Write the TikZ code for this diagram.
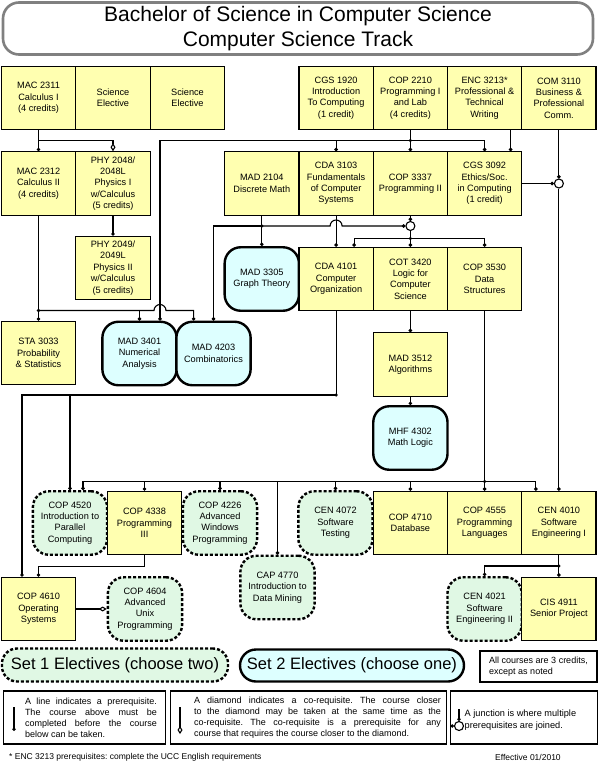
\documentclass[tikz,border=0pt]{standalone}
\usepackage{fontspec}
\setmainfont{Liberation Sans}
\usepackage{tikz}
\usetikzlibrary{arrows.meta}
\definecolor{courseyellow}{RGB}{255,255,176}
\definecolor{setonegreen}{RGB}{224,248,228}
\definecolor{settwocyan}{RGB}{221,255,255}
\frenchspacing

\begin{document}
\begin{tikzpicture}[x=1pt, y=-1pt,
    course/.style={draw, line width=1.1pt, fill=courseyellow, minimum width=74.25pt, minimum height=63.5pt, inner sep=0pt, align=center, font=\fontsize{9.2}{11.4}\selectfont},
    setone/.style={course, fill=setonegreen, rounded corners=16pt, line width=2.4pt, dash pattern=on 3pt off 2pt},
    settwo/.style={course, fill=settwocyan, rounded corners=16pt, line width=2.4pt},
    pre/.style={line width=1.1pt, -{Circle[length=3.4pt]}},
    coreq/.style={line width=1.1pt, -{Diamond[open, fill=white, length=8pt, width=5pt]}},
    junc/.style={circle, draw, fill=white, line width=1.1pt, minimum size=9pt, inner sep=0pt},
    legbox/.style={draw, line width=1.1pt, inner sep=0pt},
    legtext/.style={align=justify, inner sep=0pt, font=\fontsize{9}{11}\selectfont}]
    \path[use as bounding box, fill=white] (0,0) rectangle (598,769);

    % Title
    \node[draw=gray, line width=2.6pt, rounded corners=16pt, minimum width=590pt, minimum height=52pt, inner sep=0pt, align=center, font=\fontsize{21}{25}\selectfont] (title) at (298,28.5) {Bachelor of Science in Computer Science\\Computer Science Track};

    % Courses
    \node[course] (mac2311) at (38.5,98) {MAC 2311\\Calculus I\\(4 credits)};
    \node[course] (sci1) at (113,98) {Science\\Elective};
    \node[course] (sci2) at (187.5,98) {Science\\Elective};
    \node[course] (cgs1920) at (336.1,98) {CGS 1920\\Introduction\\To Computing\\(1 credit)};
    \node[course] (cop2210) at (410.4,98) {COP 2210\\Programming I\\and Lab\\(4 credits)};
    \node[course] (enc3213) at (484.6,98) {ENC 3213*\\Professional \&\\Technical\\Writing};
    \node[course] (com3110) at (558.9,98) {COM 3110\\Business \&\\Professional\\Comm.};
    \node[course] (mac2312) at (38.5,183.5) {MAC 2312\\Calculus II\\(4 credits)};
    \node[course] (phy2048) at (113,183.5) {PHY 2048/\\2048L\\Physics I\\w/Calculus\\(5 credits)};
    \node[course] (mad2104) at (261.8,183.5) {MAD 2104\\Discrete Math};
    \node[course] (cda3103) at (336.1,183.5) {CDA 3103\\Fundamentals\\of Computer\\Systems};
    \node[course] (cop3337) at (410.4,183.5) {COP 3337\\Programming II};
    \node[course] (cgs3092) at (484.6,183.5) {CGS 3092\\Ethics/Soc.\\in Computing\\(1 credit)};
    \node[course] (phy2049) at (113,268) {PHY 2049/\\2049L\\Physics II\\w/Calculus\\(5 credits)};
    \node[settwo] (mad3305) at (261.8,279) {MAD 3305\\Graph Theory};
    \node[course] (cda4101) at (336.1,279) {CDA 4101\\Computer\\Organization};
    \node[course] (cot3420) at (410.4,279) {COT 3420\\Logic for\\Computer\\Science};
    \node[course] (cop3530) at (484.6,279) {COP 3530\\Data\\Structures};
    \node[course] (sta3033) at (38.5,353) {STA 3033\\Probability\\\& Statistics};
    \node[settwo] (mad3401) at (139.5,353.5) {MAD 3401\\Numerical\\Analysis};
    \node[settwo] (mad4203) at (213.5,353.5) {MAD 4203\\Combinatorics};
    \node[course] (mad3512) at (410.4,364.5) {MAD 3512\\Algorithms};
    \node[settwo] (mhf4302) at (410.4,438) {MHF 4302\\Math Logic};
    \node[setone] (cop4520) at (70,523) {COP 4520\\Introduction to\\Parallel\\Computing};
    \node[course] (cop4338) at (144.5,523) {COP 4338\\Programming\\III};
    \node[setone] (cop4226) at (220,523) {COP 4226\\Advanced\\Windows\\Programming};
    \node[setone] (cen4072) at (335.5,523) {CEN 4072\\Software\\Testing};
    \node[course] (cop4710) at (410.4,523) {COP 4710\\Database};
    \node[course] (cop4555) at (484.6,523) {COP 4555\\Programming\\Languages};
    \node[course] (cen4010) at (558.9,523) {CEN 4010\\Software\\Engineering I};
    \node[setone] (cap4770) at (277.5,587.5) {CAP 4770\\Introduction to\\Data Mining};
    \node[course] (cop4610) at (38.5,609) {COP 4610\\Operating\\Systems};
    \node[setone] (cop4604) at (145,609) {COP 4604\\Advanced\\Unix\\Programming};
    \node[setone] (cen4021) at (484.6,609) {CEN 4021\\Software\\Engineering II};
    \node[course] (cis4911) at (558.9,609) {CIS 4911\\Senior Project};

    % Junctions
    \node[junc] (j1) at (410.4,226) {};
    \node[junc] (j2) at (558.9,183.5) {};
    \coordinate (b2311) at (38.5,140.5);
    \coordinate (b2210) at (410.4,140.5);
    \coordinate (b2312) at (38.5,310.5);
    \coordinate (b2104) at (261.8,226);
    \coordinate (bj1) at (410.4,238.5);
    \coordinate (b4101) at (336.1,395);
    \coordinate (b3530) at (484.6,481.5);
    \coordinate (b4010) at (558.9,566);
    \foreach \b in {b2210,b2312,b2104,bj1,b4101,b3530,b4010}
        \fill (\b) circle[radius=1.8];

    % Draw prerequisites
    \draw[pre] (mac2311) -- (mac2312);
    \draw[coreq] (b2311) -| (phy2048.north);
    \draw[pre] (phy2048) -- (phy2049);
    \draw[pre] (mac2312) -- (sta3033);
    \draw[pre] (b2312) -| (mad3401.north);
    \draw[pre] (b2312) -- (154,310.5) arc[start angle=180, end angle=360, radius=6] -| ([xshift=18.5pt]mad4203.north west);
    \draw[pre] (cop2210) -- (cop3337);
    \draw[pre] (b2210) -| (cda3103.north);
    \draw[pre] (b2210) -| (cgs3092.north);
    \draw[pre] (b2210) -| ([xshift=20.5pt]mad3401.north);
    \draw[pre] ([xshift=26pt]enc3213.south) -- ([xshift=26pt]cgs3092.north);
    \draw[pre] (mad2104) -- (mad3305);
    \draw[pre] (b2104) -| (mad4203.north);
    \draw[pre] (b2104) -- (330.1,226) arc[start angle=180, end angle=360, radius=6] -- (j1);
    \draw[pre] (cop3337) -- (j1);
    \draw[pre] (cda3103) -- (cda4101);
    \draw[line width=1.1pt] (j1) -- (bj1);
    \draw[pre] (bj1) -| ([xshift=18pt]cda4101.north);
    \draw[pre] (bj1) -- (cot3420);
    \draw[pre] (bj1) -| (cop3530.north);
    \draw[pre] (cgs3092) -- (j2);
    \draw[pre] (com3110) -- (j2);
    \draw[pre] (j2) -- (cen4010);
    \draw[pre] (cot3420) -- (mad3512);
    \draw[pre] (mad3512) -- (mhf4302);
    \draw[line width=1.1pt] (cda4101) -- (b4101);
    \draw[pre] (b4101) -| ([xshift=-16.5pt]cop4610.north);
    \draw[pre] (b4101) -| (cop4520.north);
    \draw[pre] (cop3530) -- (cop4555);
    \draw[pre] (b3530) -| ([xshift=13pt]cop4520.north);
    \draw[pre] (b3530) -| (cop4338.north);
    \draw[pre] (b3530) -| (cop4226.north);
    \draw[pre] (b3530) -| (cap4770.north);
    \draw[pre] (b3530) -| (cen4072.north);
    \draw[pre] (b3530) -| (cop4710.north);
    \draw[pre] (b3530) -| ([xshift=-23pt]cen4010.north);
    \draw[pre] (cop4338.south) -- ++(0,11) -| (cop4610.north);
    \draw[coreq] (cop4610) -- (cop4604);
    \draw[pre] (cen4010) -- (cis4911);
    \draw[pre] (b4010) -| (cen4021.north);

    % Legend
    \node[setone, minimum width=226pt, minimum height=33pt, rounded corners=15pt, font=\fontsize{16.5}{19}\selectfont] (setonekey) at (115,665) {Set 1 Electives (choose two)};
    \node[settwo, minimum width=224pt, minimum height=32pt, font=\fontsize{16.5}{19}\selectfont] (settwokey) at (352,665.5) {Set 2 Electives (choose one)};
    \node[legbox, minimum width=117pt, minimum height=31pt, align=left, font=\fontsize{9}{11}\selectfont] (creditnote) at (538.5,666.5) {All courses are 3 credits,\\except as noted};
    \node[legbox, minimum width=161.7pt, minimum height=53pt] (legone) at (84.2,717.5) {};
    \node[legbox, minimum width=276.3pt, minimum height=53pt] (legtwo) at (308.2,717.5) {};
    \node[legbox, minimum width=146.7pt, minimum height=53pt] (legthree) at (523.7,717.5) {};
    \node[legtext, text width=132pt] (legonetext) at (91,717.5) {A line indicates a prerequisite.\linebreak The course above must be\linebreak completed before the course\linebreak below can be taken.};
    \node[legtext, text width=247pt] (legtwotext) at (317.5,717.5) {\parfillskip=0pt A diamond indicates a co-requisite. The course closer\linebreak to the diamond may be taken at the same time as the\linebreak co-requisite. The co-requisite is a prerequisite for any\linebreak course that requires the course closer to the diamond.};
    \node[anchor=west, align=left, inner sep=0pt, font=\fontsize{9.2}{12}\selectfont] (legthreetext) at (464.5,720.5) {A junction is where multiple\\prerequisites are joined.};
    \coordinate (ionea) at (14,707);
    \coordinate (ioneb) at (14,731);
    \coordinate (itwoa) at (180,707);
    \coordinate (itwob) at (180,734);
    \node[junc] (ijunc) at (459,726) {};
    \coordinate (ithreea) at (459,709);
    \coordinate (ithreeb) at (451.5,726);
    \draw[pre] (ionea) -- (ioneb);
    \draw[coreq] (itwoa) -- (itwob);
    \draw[pre] (ithreea) -- (ijunc);
    \draw[pre] (ithreeb) -- (ijunc);

    % Footnotes
    \node[anchor=west, inner sep=0pt, font=\fontsize{8.5}{10}\selectfont] (footnote) at (9,757.5) {* ENC 3213 prerequisites: complete the UCC English requirements};
    \node[anchor=west, inner sep=0pt, font=\fontsize{8.5}{10}\selectfont] (effective) at (495,757.5) {Effective 01/2010};
\end{tikzpicture}
\end{document}
